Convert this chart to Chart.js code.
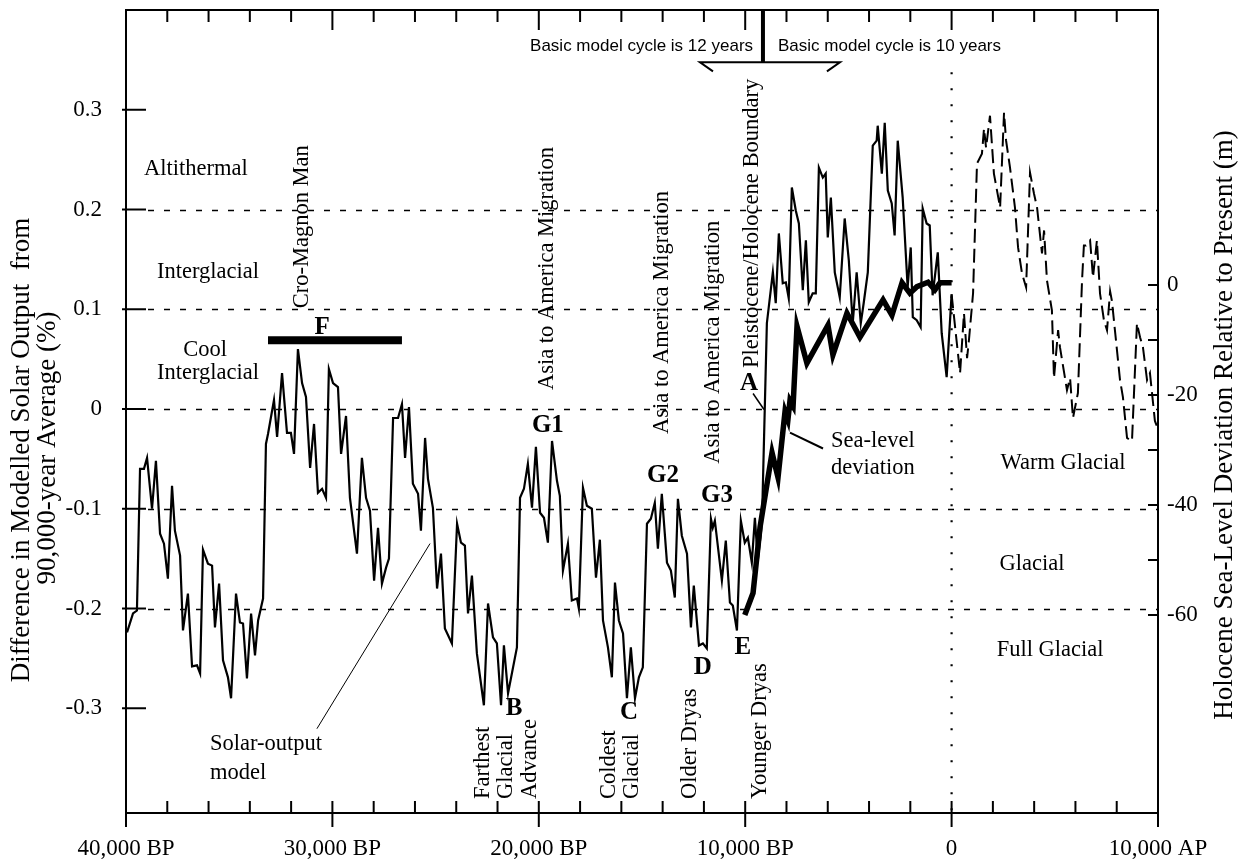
<!DOCTYPE html>
<html>
<head>
<meta charset="utf-8">
<script src="https://cdn.jsdelivr.net/npm/chart.js@4.4.0/dist/chart.umd.min.js"></script>
<style>
html, body { margin: 0; padding: 0; background: #fff; }
canvas { display: block; }
</style>
</head>
<body>
<canvas id="myChart" width="1250" height="860"></canvas>
<script>
// modelled solar output, years (negative = BP) and % difference
const solarYears = [-39950, -39660, -39470, -39320, -39130, -38980, -38740, -38550, -38350, -38160,
  -37970, -37770, -37630, -37380, -37240, -37000, -36800, -36560, -36410, -36270,
  -36030, -35830, -35690, -35490, -35300, -35060, -34910, -34670, -34480, -34330,
  -34140, -33940, -33750, -33600, -33360, -33220, -33120, -32830, -32680, -32440,
  -32200, -32010, -31860, -31670, -31470, -31280, -31080, -30890, -30700, -30500,
  -30310, -30170, -29970, -29730, -29580, -29340, -29150, -28810, -28570, -28370,
  -28180, -27980, -27790, -27600, -27400, -27260, -27060, -26820, -26630, -26480,
  -26290, -26100, -25850, -25710, -25510, -25370, -25130, -24930, -24740, -24550,
  -24210, -23960, -23770, -23580, -23430, -23240, -23000, -22660, -22460, -22220,
  -22030, -21830, -21690, -21490, -21060, -20910, -20720, -20530, -20330, -20140,
  -19940, -19750, -19560, -19360, -19120, -18980, -18830, -18590, -18400, -18150,
  -18060, -17860, -17670, -17430, -17230, -17040, -16890, -16650, -16460, -16310,
  -16120, -15920, -15730, -15540, -15340, -15150, -14960, -14760, -14570, -14380,
  -14230, -14040, -13790, -13600, -13410, -13260, -13070, -12820, -12630, -12490,
  -12240, -12050, -11860, -11660, -11570, -11470, -11130, -10940, -10740, -10600,
  -10400, -10210, -10020, -9870, -9680, -9530, -9390, -9190, -9050, -8950,
  -8660, -8520, -8370, -8180, -8030, -7890, -7740, -7550, -7400, -7210,
  -7060, -6920, -6730, -6580, -6430, -6240, -6100, -6000, -5850, -5660,
  -5420, -5180, -4980, -4790, -4600, -4400, -4260, -4060, -3820, -3630,
  -3580, -3380, -3240, -3090, -2900, -2760, -2610, -2370, -2130, -1980,
  -1880, -1690, -1500, -1400, -1210, -1060, -920, -670, -480, -240, 0];
const solarValues = [-0.224, -0.205, -0.202, -0.060, -0.060, -0.049, -0.100, -0.052, -0.125, -0.135,
  -0.170, -0.077, -0.122, -0.147, -0.222, -0.185, -0.258, -0.257, -0.265, -0.141,
  -0.155, -0.157, -0.219, -0.175, -0.252, -0.269, -0.290, -0.185, -0.214, -0.215,
  -0.270, -0.205, -0.247, -0.212, -0.190, -0.035, -0.025, 0.009, -0.028, 0.036,
  -0.024, -0.024, -0.045, 0.060, 0.026, 0.012, -0.059, -0.015, -0.084, -0.080,
  -0.089, 0.040, 0.026, 0.022, -0.045, -0.007, -0.089, -0.145, -0.049, -0.089,
  -0.102, -0.172, -0.119, -0.175, -0.159, -0.150, -0.009, -0.009, 0.005, -0.049,
  0.002, -0.075, -0.085, -0.122, -0.029, -0.070, -0.099, -0.180, -0.145, -0.220,
  -0.235, -0.115, -0.134, -0.137, -0.205, -0.167, -0.245, -0.297, -0.195, -0.229,
  -0.235, -0.297, -0.237, -0.285, -0.239, -0.089, -0.080, -0.055, -0.099, -0.038,
  -0.104, -0.109, -0.134, -0.032, -0.072, -0.087, -0.162, -0.135, -0.192, -0.190,
  -0.200, -0.079, -0.097, -0.100, -0.169, -0.131, -0.212, -0.239, -0.269, -0.174,
  -0.212, -0.225, -0.290, -0.239, -0.290, -0.269, -0.259, -0.115, -0.110, -0.094,
  -0.140, -0.085, -0.154, -0.162, -0.189, -0.090, -0.127, -0.145, -0.219, -0.177,
  -0.237, -0.235, -0.240, -0.110, -0.119, -0.112, -0.172, -0.132, -0.194, -0.197,
  -0.222, -0.112, -0.134, -0.129, -0.154, -0.109, -0.152, -0.115, 0.002, 0.086,
  0.137, 0.106, 0.176, 0.126, 0.127, 0.111, 0.222, 0.199, 0.186, 0.119,
  0.169, 0.107, 0.116, 0.116, 0.242, 0.232, 0.236, 0.172, 0.212, 0.137,
  0.112, 0.191, 0.149, 0.086, 0.137, 0.086, 0.106, 0.137, 0.264, 0.269,
  0.284, 0.236, 0.287, 0.219, 0.206, 0.174, 0.269, 0.212, 0.122, 0.162,
  0.092, 0.089, 0.082, 0.201, 0.186, 0.184, 0.114, 0.157, 0.076, 0.032, 0.115];

// model run forward from the present (dashed)
const futureYears = [0, 410, 600, 750, 840, 1040, 1230, 1470, 1570, 1670,
  1860, 2050, 2350, 2540, 2640, 2830, 3070, 3220, 3410, 3610,
  3800, 3990, 4140, 4380, 4480, 4620, 4860, 4960, 5160, 5250,
  5590, 5740, 5880, 6120, 6320, 6410, 6510, 6710, 6850, 7040, 7190,
  7380, 7530, 7680, 7770, 8160, 8300, 8500, 8740, 8980, 9130,
  9270, 9470, 9610, 9850, 10000];
const futureValues = [0.115, 0.036, 0.096, 0.051, 0.069, 0.116, 0.246, 0.256, 0.281, 0.262,
  0.294, 0.236, 0.202, 0.297, 0.269, 0.242, 0.202, 0.162, 0.136, 0.122,
  0.237, 0.216, 0.202, 0.156, 0.179, 0.129, 0.099, 0.031, 0.079, 0.062,
  0.019, 0.031, -0.009, 0.016, 0.129, 0.164, 0.164, 0.169, 0.132, 0.169, 0.116,
  0.089, 0.079, 0.118, 0.108, 0.029, 0.012, -0.029, -0.032, 0.086, 0.072,
  0.062, 0.029, 0.036, -0.012, -0.020];

// Holocene sea-level deviation (m)
const seaYears = [-10020, -9620, -9280, -8700, -8410, -8070, -7930, -7830, -7680, -7490,
  -7010, -5990, -5750, -5070, -4440, -3320, -2890, -2400, -2020, -1680,
  -1140, -810, -560, 0];
const seaValues = [-60, -56, -44, -30.5, -35, -23, -24.5, -21, -22, -7.5,
  -14.2, -7.3, -12.7, -5.1, -9.5, -2.7, -5.5, 0.4, -1.5, -0.3,
  0.5, -0.9, 0.4, 0.4];

// bar F
const fYears = [-33120, -26630];
const fValues = [0.069, 0.069];

const yTicks = [-0.3, -0.2, -0.1, 0, 0.1, 0.2, 0.3];
const gridValues = [-0.2, -0.1, 0, 0.1, 0.2];
const seaTicks = [-60, -40, -20, 0];
const seaMinorTicks = [-60, -50, -40, -30, -20, -10, 0];
const xTicks = [-40000, -30000, -20000, -10000, 0, 10000];
const xTickLabels = ['40,000 BP', '30,000 BP', '20,000 BP', '10,000 BP', '0', '10,000 AP'];

const serif = '"Liberation Serif", "Times New Roman", serif';
const sans = '"Liberation Sans", Arial, sans-serif';

const notes = [
  {t: 'Altithermal', x: -36610, y: 0.241},
  {t: 'Interglacial', x: -36030, y: 0.137},
  {t: 'Cool', x: -36170, y: 0.059},
  {t: 'Interglacial', x: -36030, y: 0.036},
  {t: 'Warm Glacial', x: 5400, y: -0.054},
  {t: 'Glacial', x: 3900, y: -0.155},
  {t: 'Full Glacial', x: 4770, y: -0.242},
  {t: 'Sea-level', x: -3810, y: -0.032},
  {t: 'deviation', x: -3810, y: -0.059},
  {t: 'Solar-output', x: -35930, y: -0.3355, align: 'left'},
  {t: 'model', x: -35930, y: -0.3646, align: 'left'},
  {t: 'F', x: -30500, y: 0.082, bold: true},
  {t: 'G1', x: -19560, y: -0.017, bold: true},
  {t: 'G2', x: -13980, y: -0.067, bold: true},
  {t: 'G3', x: -11370, y: -0.087, bold: true},
  {t: 'A', x: -9820, y: 0.026, bold: true},
  {t: 'B', x: -21200, y: -0.300, bold: true},
  {t: 'C', x: -15630, y: -0.304, bold: true},
  {t: 'D', x: -12050, y: -0.259, bold: true},
  {t: 'E', x: -10110, y: -0.239, bold: true},
  {t: 'Cro-Magnon Man', x: -31470, y: 0.101, rot: true},
  {t: 'Asia to America Migration', x: -19600, y: 0.019, rot: true},
  {t: 'Asia to America Migration', x: -14030, y: -0.025, rot: true},
  {t: 'Asia to America Migration', x: -11560, y: -0.055, rot: true},
  {t: 'Pleistocene/Holocene Boundary', x: -9670, y: 0.041, rot: true},
  {t: 'Farthest', x: -22700, y: -0.391, rot: true},
  {t: 'Glacial', x: -21590, y: -0.391, rot: true},
  {t: 'Advance', x: -20430, y: -0.391, rot: true},
  {t: 'Coldest', x: -16600, y: -0.391, rot: true},
  {t: 'Glacial', x: -15480, y: -0.391, rot: true},
  {t: 'Older Dryas', x: -12670, y: -0.391, rot: true},
  {t: 'Younger Dryas', x: -9280, y: -0.391, rot: true},
  {t: 'Basic model cycle is 12 years', x: -9620, y: 0.3636, align: 'right', sans: true},
  {t: 'Basic model cycle is 10 years', x: -8410, y: 0.3636, align: 'left', sans: true}
];

const pointers = [
  {x1: -30750, y1: -0.3205, x2: -25270, y2: -0.1349, w: 1},
  {x1: -7830, y1: -0.0236, x2: -6230, y2: -0.0396, w: 2},
  {x1: -9620, y1: 0.0155, x2: -9090, y2: -0.0005, w: 1.5}
];

function line(ctx, x1, y1, x2, y2) {
  ctx.beginPath();
  ctx.moveTo(x1, y1);
  ctx.lineTo(x2, y2);
  ctx.stroke();
}

// stop the tick-label padding from pushing the plot area around
function noPad(s) {
  s.paddingTop = 0;
  s.paddingBottom = 0;
  s.paddingLeft = 0;
  s.paddingRight = 0;
}

const decor = {
  id: 'decor',
  beforeDatasetsDraw(chart) {
    const {ctx, chartArea: a, scales: {x, y}} = chart;
    ctx.save();
    ctx.strokeStyle = '#000';
    ctx.lineWidth = 1.3;
    ctx.setLineDash([6, 10]);
    gridValues.forEach(v => {
      const py = Math.round(y.getPixelForValue(v)) + 0.5;
      line(ctx, a.left + 22, py, a.right, py);
    });
    // present-day dotted line
    ctx.setLineDash([2, 14]);
    ctx.lineWidth = 2.2;
    const p0 = x.getPixelForValue(0);
    line(ctx, p0, y.getPixelForValue(0.3375), p0, a.bottom);
    ctx.restore();
  },
  afterDatasetsDraw(chart) {
    const {ctx, chartArea: a, scales: {x, y, y2}} = chart;
    ctx.save();
    ctx.strokeStyle = '#000';
    ctx.fillStyle = '#000';
    ctx.lineWidth = 2;
    ctx.strokeRect(a.left, a.top, a.right - a.left, a.bottom - a.top);

    // tick marks, all pointing inward
    yTicks.forEach(v => {
      const py = y.getPixelForValue(v);
      line(ctx, a.left - 4, py, a.left + 20, py);
    });
    seaMinorTicks.forEach(v => {
      const py = y2.getPixelForValue(v);
      line(ctx, a.right - 10, py, a.right, py);
    });
    for (let yr = -40000; yr <= 10000; yr += 2000) {
      const px = x.getPixelForValue(yr);
      const major = yr % 10000 === 0;
      line(ctx, px, a.bottom - 12, px, a.bottom + (major ? 14 : 0));
      line(ctx, px, a.top, px, a.top + (major ? 20 : 12));
    }

    // model cycle marker at the top
    ctx.lineWidth = 4;
    const pb = x.getPixelForValue(-9140);
    line(ctx, pb, a.top, pb, y.getPixelForValue(0.3475));
    ctx.lineWidth = 2;
    ctx.beginPath();
    ctx.moveTo(x.getPixelForValue(-11560), y.getPixelForValue(0.3385));
    ctx.lineTo(x.getPixelForValue(-12190), y.getPixelForValue(0.3475));
    ctx.lineTo(x.getPixelForValue(-5410), y.getPixelForValue(0.3475));
    ctx.lineTo(x.getPixelForValue(-6040), y.getPixelForValue(0.3385));
    ctx.stroke();

    pointers.forEach(p => {
      ctx.lineWidth = p.w;
      line(ctx, x.getPixelForValue(p.x1), y.getPixelForValue(p.y1),
        x.getPixelForValue(p.x2), y.getPixelForValue(p.y2));
    });

    notes.forEach(n => {
      const px = x.getPixelForValue(n.x);
      const py = y.getPixelForValue(n.y);
      if (n.sans) ctx.font = '17px ' + sans;
      else if (n.bold) ctx.font = 'bold 25px ' + serif;
      else ctx.font = '22.5px ' + serif;
      ctx.textBaseline = 'middle';
      if (n.rot) {
        ctx.save();
        ctx.translate(px, py);
        ctx.rotate(-Math.PI / 2);
        ctx.textAlign = 'left';
        ctx.fillText(n.t, 0, 0);
        ctx.restore();
      } else {
        ctx.textAlign = n.align || 'center';
        ctx.fillText(n.t, px, py);
      }
    });

    // axis titles
    ctx.font = '27px ' + serif;
    ctx.textAlign = 'center';
    ctx.save();
    ctx.translate(22, 450);
    ctx.rotate(-Math.PI / 2);
    ctx.fillText('Difference in Modelled Solar Output  from', 0, 0);
    ctx.fillText('90,000-year Average (%)', 2, 26);
    ctx.restore();
    ctx.save();
    ctx.translate(1225, 425);
    ctx.rotate(-Math.PI / 2);
    ctx.fillText('Holocene Sea-Level Deviation Relative to Present (m)', 0, 0);
    ctx.restore();
    ctx.restore();
  }
};

const pts = (xs, ys) => xs.map((v, i) => ({x: v, y: ys[i]}));

const config = {
  type: 'line',
  data: {
    datasets: [
      {label: 'Solar-output model', data: pts(solarYears, solarValues), yAxisID: 'y',
        borderColor: '#000', borderWidth: 2.2, pointRadius: 0, tension: 0},
      {label: 'Model forward', data: pts(futureYears, futureValues), yAxisID: 'y',
        borderColor: '#000', borderWidth: 2, borderDash: [14, 6], pointRadius: 0, tension: 0},
      {label: 'Sea-level deviation', data: pts(seaYears, seaValues), yAxisID: 'y2',
        borderColor: '#000', borderWidth: 5.5, borderJoinStyle: 'miter', pointRadius: 0, tension: 0},
      {label: 'F', data: pts(fYears, fValues), yAxisID: 'y',
        borderColor: '#000', borderWidth: 8, borderCapStyle: 'butt', pointRadius: 0}
    ]
  },
  options: {
    responsive: false,
    animation: false,
    events: [],
    layout: {padding: {top: 10, left: 0, right: 0, bottom: 0}},
    plugins: {legend: {display: false}, tooltip: {enabled: false}},
    scales: {
      x: {
        type: 'linear', position: 'bottom', min: -40000, max: 10000,
        grid: {display: false, drawTicks: false}, border: {display: false},
        afterBuildTicks: s => { s.ticks = xTicks.map(v => ({value: v})); },
        afterFit: s => { s.height = 47; noPad(s); },
        ticks: {
          autoSkip: false, maxRotation: 0, padding: 22, color: '#000',
          font: {family: serif, size: 23},
          callback: v => xTickLabels[xTicks.indexOf(v)]
        }
      },
      y: {
        type: 'linear', position: 'left', min: -0.405, max: 0.4,
        grid: {display: false, drawTicks: false}, border: {display: false},
        afterBuildTicks: s => { s.ticks = yTicks.map(v => ({value: v})); },
        afterFit: s => { s.width = 126; noPad(s); },
        ticks: {
          padding: 24, color: '#000', font: {family: serif, size: 23},
          callback: v => v === 0 ? '0' : v.toFixed(1)
        }
      },
      y2: {
        type: 'linear', position: 'right', min: -96, max: 50,
        grid: {display: false, drawTicks: false}, border: {display: false},
        afterBuildTicks: s => { s.ticks = seaTicks.map(v => ({value: v})); },
        afterFit: s => { s.width = 92; noPad(s); },
        ticks: {padding: 9, color: '#000', font: {family: serif, size: 23}}
      }
    }
  },
  plugins: [decor]
};

const myChart = new Chart(document.getElementById('myChart'), config);
</script>
</body>
</html>
